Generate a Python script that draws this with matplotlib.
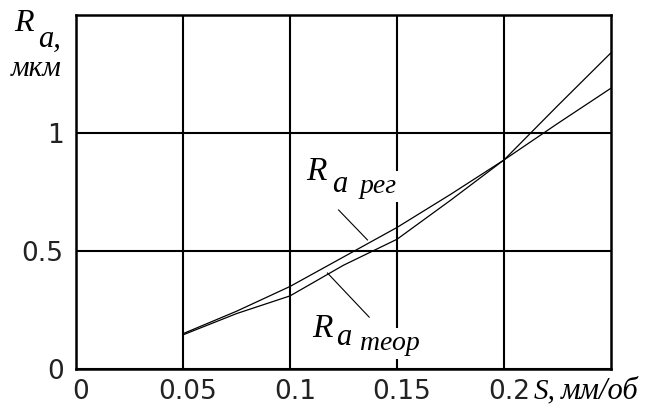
import matplotlib.pyplot as plt
import matplotlib.transforms as mtransforms

# feed S, mm/rev and roughness Ra, um
s_vals = [0.05, 0.075, 0.1, 0.125, 0.15, 0.175, 0.2, 0.225, 0.25]
ra_reg = [0.15, 0.245, 0.35, 0.475, 0.60, 0.74, 0.886, 1.04, 1.19]
ra_teor = [0.145, 0.235, 0.31, 0.44, 0.55, 0.715, 0.886, 1.115, 1.34]

x_ticks = [0, 0.05, 0.1, 0.15, 0.2]
x_labels = ['0', '0.05', '0.1', '0.15', '0.2']
y_ticks = [0, 0.5, 1]
y_labels = ['0', '0.5', '1']

tick_font = ['DejaVu Sans']
serif = ['Liberation Serif', 'DejaVu Serif']

fig = plt.figure(figsize=(6.57, 4.11), dpi=100)
ax = fig.add_axes([0.1157, 0.102, 0.8143, 0.8615])

ax.plot(s_vals, ra_reg, color='black', lw=0.9, zorder=2)
ax.plot(s_vals, ra_teor, color='black', lw=0.9, zorder=2)

ax.set_xlim(0, 0.25)
ax.set_ylim(0, 1.5)
ax.set_xticks(x_ticks)
ax.set_xticklabels(x_labels, family=tick_font, fontsize=19, color='#222222')
ax.set_yticks(y_ticks)
ax.set_yticklabels(y_labels, family=tick_font, fontsize=19, color='#222222')
ax.tick_params(length=0)
ax.tick_params(axis='x', pad=7)
ax.tick_params(axis='y', pad=9)
# tick labels in the original sit a few pixels to the right of the grid lines
shift = mtransforms.ScaledTranslation(0.05, 0, fig.dpi_scale_trans)
for lbl in ax.get_xticklabels():
    lbl.set_transform(lbl.get_transform() + shift)
ax.set_axisbelow(True)
ax.grid(True, color='black', lw=1.5)
for sp in ax.spines.values():
    sp.set_linewidth(1.8)

# axis labels
fig.text(0.022, 0.925, 'R', family=serif, style='italic', fontsize=23)
fig.text(0.058, 0.885, 'a,', family=serif, style='italic', fontsize=22)
fig.text(0.016, 0.815, 'мкм', family=serif, style='italic', fontsize=21)
fig.text(0.812, 0.03, 'S,', family=serif, style='italic', fontsize=21)
fig.text(0.853, 0.03, 'мм/об', family=serif, style='italic', fontsize=22)

# curve labels
white = dict(facecolor='white', edgecolor='none', pad=2)
ax.text(0.1077, 0.80, 'R', family=serif, style='italic', fontsize=24, zorder=3)
ax.text(0.1195, 0.75, 'a', family=serif, style='italic', fontsize=22, zorder=3)
ax.text(0.1325, 0.745, 'рег', family=serif, style='italic', fontsize=20,
        zorder=3, bbox=white)
ax.plot([0.1227, 0.1362], [0.674, 0.547], color='black', lw=0.8)

ax.text(0.1105, 0.136, 'R', family=serif, style='italic', fontsize=24, zorder=3)
ax.text(0.1215, 0.10, 'a', family=serif, style='italic', fontsize=22, zorder=3)
ax.text(0.1325, 0.08, 'теор', family=serif, style='italic', fontsize=20,
        zorder=3, bbox=white)
ax.plot([0.137, 0.1175], [0.22, 0.407], color='black', lw=0.8)

plt.savefig('out.png', dpi=100)
